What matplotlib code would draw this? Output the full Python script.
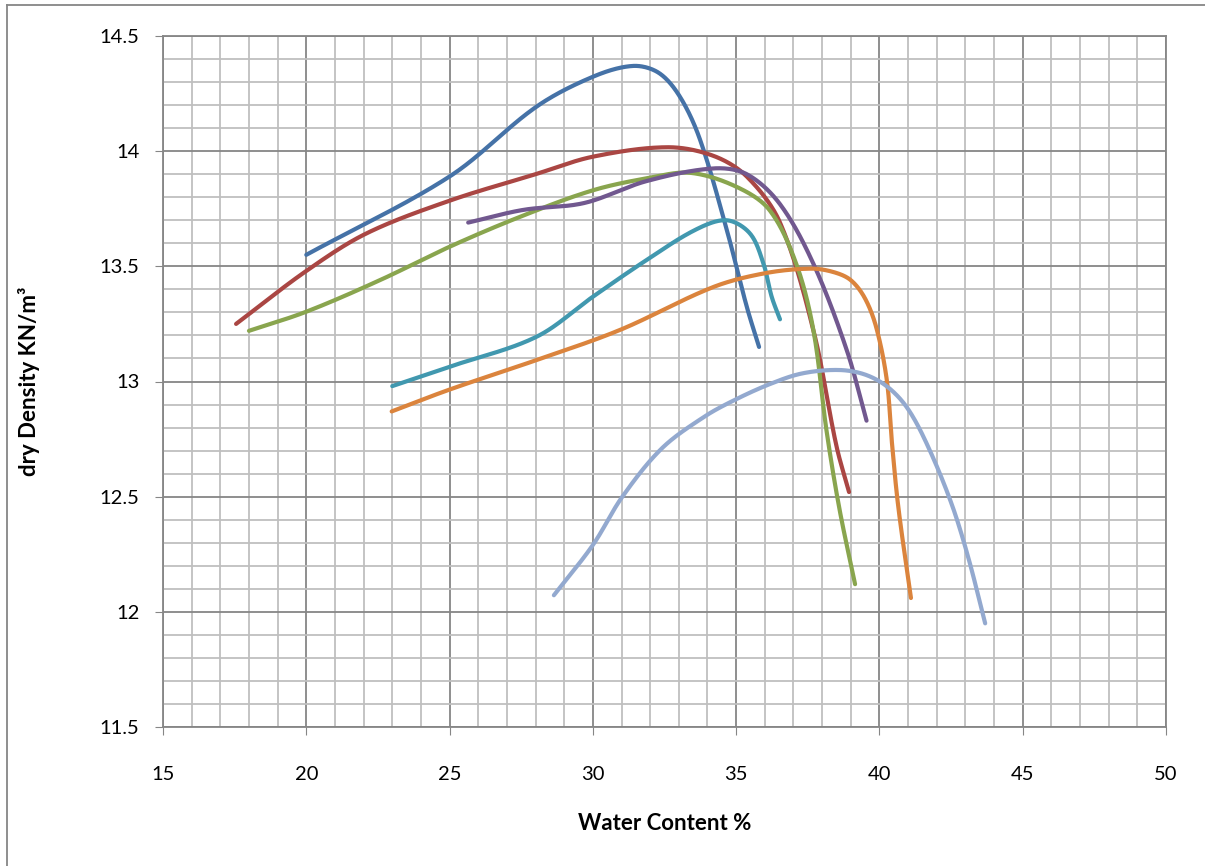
import numpy as np
import matplotlib.pyplot as plt
from matplotlib.lines import Line2D
from matplotlib.ticker import MultipleLocator

plt.rcParams['font.family'] = ['Lato', 'DejaVu Sans']

# water content (%) / dry density (kN/m3)
x_blue = [20.0, 25.0, 28.03, 30.0, 31.4, 32.3, 33.04, 33.74, 34.67, 35.37, 35.8]
y_blue = [13.55, 13.89, 14.193, 14.323, 14.37, 14.34, 14.236, 14.05, 13.66, 13.325, 13.15]

x_red = [17.55, 20.0, 22.1, 25.0, 28.0, 30.0, 32.6, 34.2, 35.37, 36.53, 37.7, 38.5, 38.94]
y_red = [13.25, 13.48, 13.643, 13.785, 13.90, 13.976, 14.017, 13.98, 13.89, 13.69, 13.22, 12.72, 12.52]

x_green = [18.0, 20.0, 22.57, 25.0, 27.46, 30.0, 32.0, 33.4, 35.0, 36.16, 37.1, 37.7, 38.15, 38.6, 39.15]
y_green = [13.22, 13.303, 13.44, 13.585, 13.715, 13.83, 13.885, 13.906, 13.846, 13.745, 13.51, 13.22, 12.79, 12.45, 12.12]

x_purple = [25.65, 27.57, 29.7, 31.87, 34.2, 35.37, 36.53, 37.7, 38.85, 39.55]
y_purple = [13.69, 13.745, 13.775, 13.87, 13.925, 13.90, 13.77, 13.51, 13.14, 12.83]

x_teal = [23.0, 25.0, 28.03, 30.0, 31.87, 33.6, 34.67, 35.48, 35.95, 36.24, 36.53]
y_teal = [12.98, 13.064, 13.194, 13.368, 13.527, 13.66, 13.70, 13.643, 13.513, 13.368, 13.27]

x_orange = [22.98, 25.0, 28.03, 30.95, 34.2, 36.0, 37.6, 38.4, 39.0, 39.5, 39.9, 40.26, 40.43, 40.66, 41.1]
y_orange = [12.87, 12.965, 13.093, 13.224, 13.41, 13.47, 13.49, 13.475, 13.44, 13.36, 13.23, 13.004, 12.743, 12.454, 12.06]

x_lblue = [28.64, 30.0, 31.03, 32.41, 33.9, 35.0, 36.2, 37.3, 38.57, 39.5, 40.3, 41.0, 41.71, 42.52, 43.1, 43.69]
y_lblue = [12.072, 12.29, 12.50, 12.71, 12.848, 12.923, 12.99, 13.035, 13.05, 13.03, 12.975, 12.88, 12.714, 12.468, 12.236, 11.95]

series = [
    (x_blue, y_blue, '#4572A7'),
    (x_red, y_red, '#AA4643'),
    (x_green, y_green, '#89A54E'),
    (x_purple, y_purple, '#71588F'),
    (x_teal, y_teal, '#4198AF'),
    (x_orange, y_orange, '#DB843D'),
    (x_lblue, y_lblue, '#93A9CF'),
]

# echelle pixel du graphique pour le parametrage (unites -> px)
SX, SY = 28.66, 230.3


def smooth(xs, ys, n=40):
    """ Courbe lissée (Bezier, tangentes par longueur de corde) """
    p = np.column_stack([np.array(xs) * SX, np.array(ys) * SY])
    d = np.linalg.norm(np.diff(p, axis=0), axis=1)
    t = np.concatenate([[0], np.cumsum(d)])
    k = len(p)
    m = np.zeros_like(p)
    m[0] = (p[1] - p[0]) / (t[1] - t[0])
    m[-1] = (p[-1] - p[-2]) / (t[-1] - t[-2])
    for i in range(1, k - 1):
        m[i] = (p[i + 1] - p[i - 1]) / (t[i + 1] - t[i - 1])
    u = np.linspace(0, 1, n)[:, None]
    out = []
    for i in range(k - 1):
        h = t[i + 1] - t[i]
        c1 = p[i] + m[i] * h / 3
        c2 = p[i + 1] - m[i + 1] * h / 3
        seg = (1 - u)**3 * p[i] + 3 * (1 - u)**2 * u * c1 + 3 * (1 - u) * u**2 * c2 + u**3 * p[i + 1]
        out.append(seg)
    out = np.vstack(out)
    return out[:, 0] / SX, out[:, 1] / SY


fig = plt.figure(figsize=(12.05, 8.66), dpi=100)
ax = fig.add_axes([163 / 1205, 1 - 727 / 866, 1003 / 1205, 691 / 866])

for xs, ys, c in series:
    sx, sy = smooth(xs, ys)
    ax.plot(sx, sy, color=c, lw=3, solid_capstyle='round', zorder=3)

ax.set_xlim(15, 50)
ax.set_ylim(11.5, 14.5)
ax.xaxis.set_major_locator(MultipleLocator(5))
ax.xaxis.set_minor_locator(MultipleLocator(1))
ax.yaxis.set_major_locator(MultipleLocator(0.5))
ax.yaxis.set_minor_locator(MultipleLocator(0.1))
ax.set_yticks([11.5, 12, 12.5, 13, 13.5, 14, 14.5])
ax.set_yticklabels(['11.5', '12', '12.5', '13', '13.5', '14', '14.5'])

ax.grid(which='minor', color='#BFBFBF', lw=1.3, zorder=1)
ax.grid(which='major', color='#868686', lw=1.3, zorder=2)
ax.set_axisbelow(True)
for s in ax.spines.values():
    s.set_color('#868686')
    s.set_linewidth(1.3)

ax.tick_params(which='major', direction='out', length=6, color='#868686',
               labelsize=14.5)
ax.tick_params(axis='x', pad=22)
ax.tick_params(axis='y', pad=11)
ax.tick_params(which='minor', length=0)

ax.set_xlabel('Water Content %', fontsize=16, fontweight='bold')
ax.set_ylabel('dry Density KN/m³', fontsize=16, fontweight='bold')
ax.xaxis.set_label_coords(0.5, -0.1245)
ax.yaxis.set_label_coords(-0.1226, 0.5)

# cadre du graphique
fig.add_artist(Line2D([7 / 1205, 7 / 1205], [0, 1 - 5 / 866], color='#868686', lw=1.3))
fig.add_artist(Line2D([7 / 1205, 1], [1 - 5 / 866, 1 - 5 / 866], color='#868686', lw=1.3))

plt.savefig('out.png', dpi=100)
